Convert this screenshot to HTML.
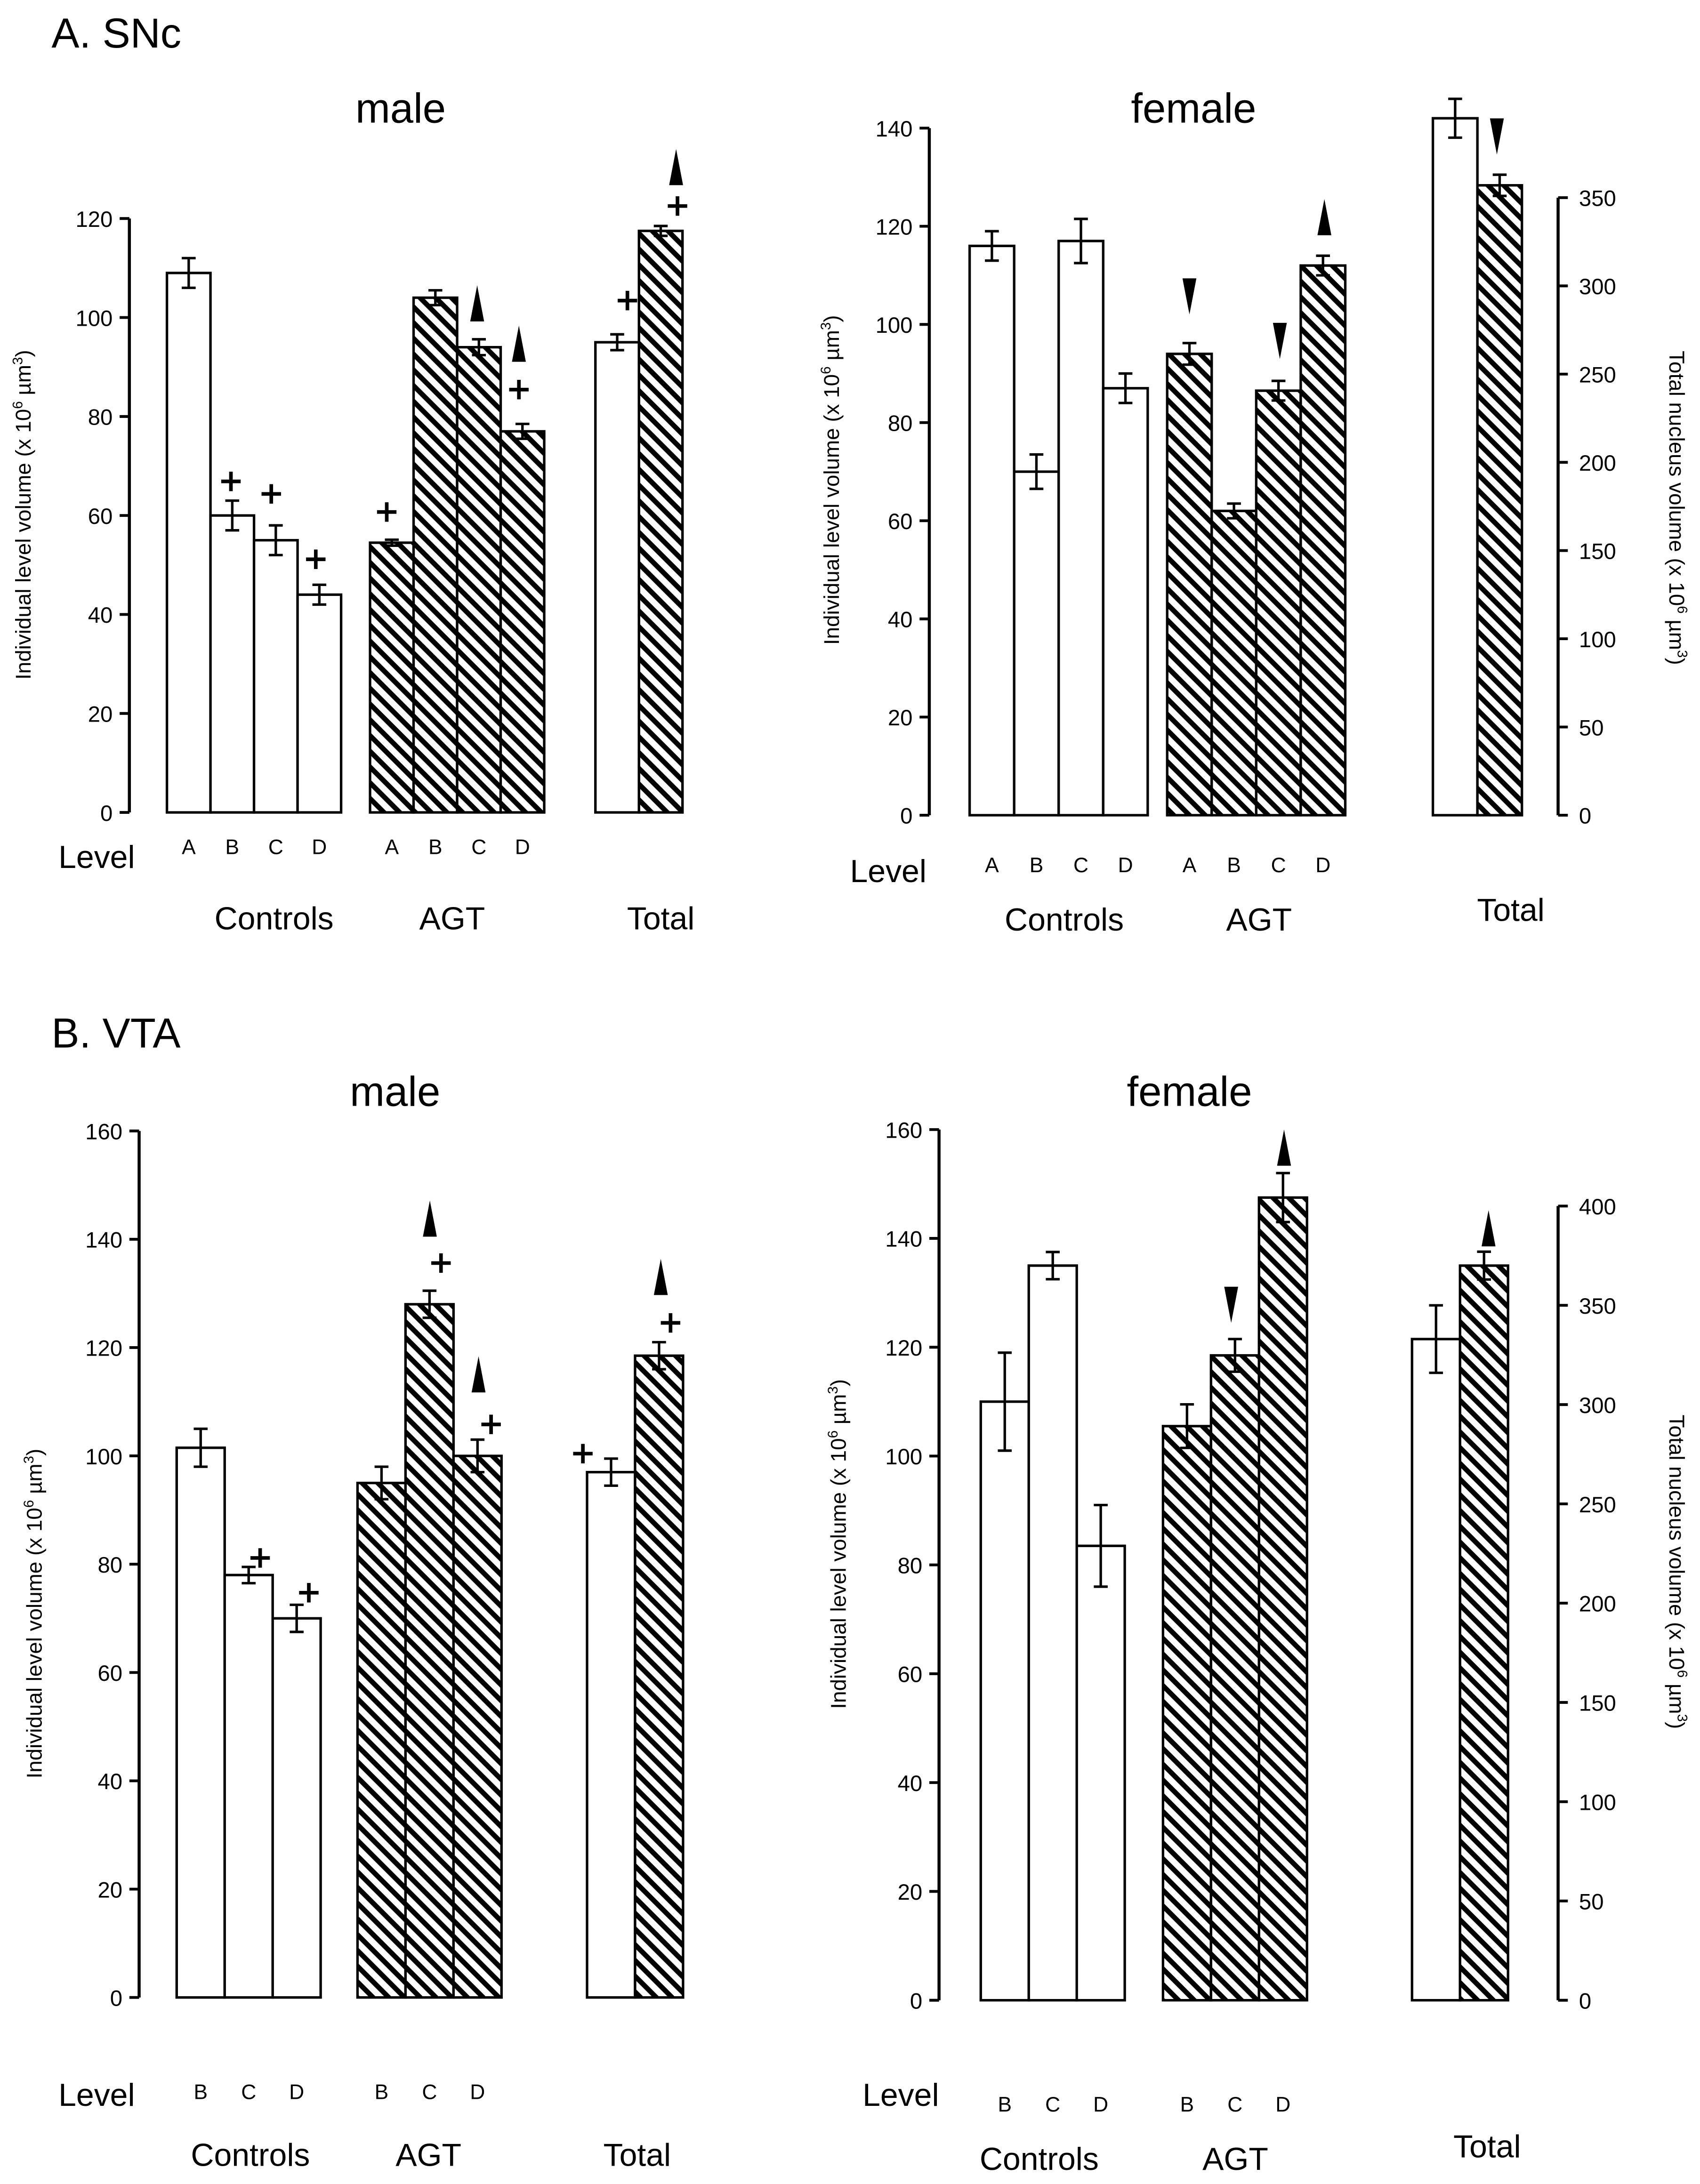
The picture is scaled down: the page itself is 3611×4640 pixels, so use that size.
<!DOCTYPE html>
<html><head><meta charset="utf-8"><style>
html,body{margin:0;padding:0;background:#fff}
svg{display:block}
text{font-family:"Liberation Sans",Arial,sans-serif;fill:#000}
</style></head><body>
<svg id="fig" xmlns="http://www.w3.org/2000/svg" width="3611" height="4640" viewBox="0 0 1222 1570">
<defs>
<pattern id="hatch" patternUnits="userSpaceOnUse" width="8" height="8" patternTransform="rotate(45)">
<rect x="0" y="0" width="8" height="8" fill="#fff"/>
<rect x="0" y="0" width="8" height="3.6" fill="#000"/>
</pattern>
</defs>
<text x="37" y="34" font-size="30">A. SNc</text>
<text x="37" y="753" font-size="30">B. VTA</text>
</svg>
<script>
// ---- Panel A male (SNc) ----
const snmCategories = ['A','B','C','D'];
const snmCtrl = [109, 60, 55, 44];
const snmCtrlErr = [3, 3, 3, 2];
const snmAgt = [54.5, 104, 94, 77];
const snmAgtErr = [0.6, 1.5, 1.6, 1.5];
const snmTotal = [95, 117.5];
const snmTotalErr = [1.6, 1];
const snmTicks = [0,20,40,60,80,100,120];
// ---- Panel A female (SNc) ----
const snfCategories = ['A','B','C','D'];
const snfCtrl = [116, 70, 117, 87];
const snfCtrlErr = [3, 3.5, 4.5, 3];
const snfAgt = [94, 62, 86.5, 112];
const snfAgtErr = [2.2, 1.5, 2, 2];
const snfTotal = [395, 357];
const snfTotalErr = [11, 6];
const snfTicks = [0,20,40,60,80,100,120,140];
const snfRightTicks = [0,50,100,150,200,250,300,350];
// ---- Panel B male (VTA) ----
const vmCategories = ['B','C','D'];
const vmCtrl = [101.5, 78, 70];
const vmCtrlErr = [3.5, 1.5, 2.5];
const vmAgt = [95, 128, 100];
const vmAgtErr = [3, 2.5, 3];
const vmTotal = [97, 118.5];
const vmTotalErr = [2.5, 2.5];
const vmTicks = [0,20,40,60,80,100,120,140,160];
// ---- Panel B female (VTA) ----
const vfCategories = ['B','C','D'];
const vfCtrl = [110, 135, 83.5];
const vfCtrlErr = [9, 2.5, 7.5];
const vfAgt = [105.5, 118.5, 147.5];
const vfAgtErr = [4, 3, 4.5];
const vfTotal = [333, 370];
const vfTotalErr = [17, 7];
const vfTicks = [0,20,40,60,80,100,120,140,160];
const vfRightTicks = [0,50,100,150,200,250,300,350,400];

const NS='http://www.w3.org/2000/svg';
const svg=document.getElementById('fig');
function mk(tag,attrs,parent){const e=document.createElementNS(NS,tag);for(const k in attrs)e.setAttribute(k,attrs[k]);(parent||svg).appendChild(e);return e;}

function panel(p){
  const g=mk('g',{});
  
  
  const yL=v=>p.y0-(v-0)*p.k;
  const yR=v=>p.y0-v*(p.kR||p.k);
  const ax=mk('line',{x1:p.ax,x2:p.ax,y1:yL(p.ticks[p.ticks.length-1]),y2:p.y0,stroke:'#000','stroke-width':2.2},g);
  
  
  p.ticks.forEach(t=>{
    mk('line',{x1:p.ax-7,x2:p.ax,y1:yL(t),y2:yL(t),stroke:'#000','stroke-width':2},g);
    const tx=mk('text',{x:p.ax-12,y:yL(t)+6,'font-size':16,'text-anchor':'end'},g);
    tx.textContent=t;
    
    
  });
  const lt=mk('text',{x:0,y:0,'font-size':15.5,'text-anchor':'middle',transform:`translate(${p.ltx},${p.lty}) rotate(-90)`},g);
  lt.innerHTML='Individual level volume (x 10<tspan font-size="10" dy="-6">6</tspan><tspan dy="6"> µm</tspan><tspan font-size="10" dy="-6">3</tspan><tspan dy="6">)</tspan>';
  
  
  if(p.rticks){
    const ra=mk('line',{x1:p.rx,x2:p.rx,y1:yR(p.rticks[p.rticks.length-1]),y2:p.y0,stroke:'#000','stroke-width':2.2},g);
    
    
    p.rticks.forEach(t=>{
      mk('line',{x1:p.rx,x2:p.rx+7,y1:yR(t),y2:yR(t),stroke:'#000','stroke-width':2},g);
      const tx=mk('text',{x:p.rx+15,y:yR(t)+6,'font-size':16},g);
      tx.textContent=t;
      
      
    });
    const rt=mk('text',{x:0,y:0,'font-size':15.5,'text-anchor':'middle',transform:`translate(${p.rtx},${p.rty}) rotate(90)`},g);
    rt.innerHTML='Total nucleus volume (x 10<tspan font-size="10" dy="-6">6</tspan><tspan dy="6"> µm</tspan><tspan font-size="10" dy="-6">3</tspan><tspan dy="6">)</tspan>';
    
    
  }
  function bar(x,w,v,e,hatched,yf,name){
    const top=yf(v);
    const r=mk('rect',{x:x,y:top,width:w,height:p.y0-top,fill:hatched?'url(#hatch)':'#fff',stroke:'#000','stroke-width':1.8},g);
    
    
    const cx=x+w/2, a=yf(v+e), b=yf(v-e);
    const eb=mk('path',{d:`M${cx},${a}V${b}M${cx-5},${a}H${cx+5}M${cx-5},${b}H${cx+5}`,stroke:'#000','stroke-width':1.8,fill:'none'},g);
    
    
  }
  p.cats.forEach((c,i)=>{
    bar(p.cx0+i*p.bw,p.bw,p.ctrl[i],p.ctrlErr[i],false,yL,'bar-control-'+c.toLowerCase());
    bar(p.ax0+i*p.bw,p.bw,p.agt[i],p.agtErr[i],true,yL,'bar-agt-'+c.toLowerCase());
    const l1=mk('text',{x:p.cx0+(i+.5)*p.bw,y:p.ly,'font-size':15,'text-anchor':'middle'},g);
    l1.textContent=c;
    
    
    const l2=mk('text',{x:p.ax0+(i+.5)*p.bw,y:p.ly,'font-size':15,'text-anchor':'middle'},g);
    l2.textContent=c;
    
    
  });
  const tf=p.rticks?yR:yL;
  bar(p.tx0,p.bw,p.total[0],p.totalErr[0],false,tf,'bar-total-control');
  bar(p.tx0+p.bw,p.bw,p.total[1],p.totalErr[1],true,tf,'bar-total-agt');
  [[p.title,p.titx,p.tity,30,'middle','panel-title'],['Level',p.lvx,p.lvy,23,'start','level-title'],
   ['Controls',p.gc[0],p.gy,23,'middle','group-label-controls'],['AGT',p.gc[1],p.gy,23,'middle','group-label-agt'],
   ['Total',p.gc[2],p.gty,23,'middle','group-label-total']].forEach(a=>{
    const t=mk('text',{x:a[1],y:a[2],'font-size':a[3],'text-anchor':a[4]},g);
    t.textContent=a[0];
    
    
  });
  p.plus.forEach(q=>{
    const m=mk('path',{d:`M${q[0]-7},${q[1]}H${q[0]+7}M${q[0]},${q[1]-7}V${q[1]+7}`,stroke:'#000','stroke-width':2.6},g);
    
    
  });
  p.arrows.forEach(q=>{
    const d=q[2]>0?`M${q[0]},${q[1]}L${q[0]+5},${q[1]+26}L${q[0]-5},${q[1]+26}Z`:`M${q[0]-5},${q[1]}L${q[0]+5},${q[1]}L${q[0]},${q[1]+26}Z`;
    const m=mk('path',{d:d,fill:'#000'},g);
    
    
  });
}

panel({name:'snc-male-chart',ax:93,y0:584,k:427/120,ticks:snmTicks,ltx:22,lty:370,
 cats:snmCategories,ctrl:snmCtrl,ctrlErr:snmCtrlErr,agt:snmAgt,agtErr:snmAgtErr,total:snmTotal,totalErr:snmTotalErr,
 bw:31.3,cx0:120,ax0:266,tx0:428,ly:614,title:'male',titx:288,tity:88,lvx:42,lvy:624,gc:[197,325,475],gy:668,gty:668,
 plus:[[166,346],[195,355],[227,402],[278,368],[373,280],[451,216],[487,148]],
 arrows:[[343,205,1],[373,234,1],[486,107,1]]});
panel({name:'snc-female-chart',ax:668,y0:586,k:494/140,ticks:snfTicks,ltx:603,lty:345,
 rx:1120,kR:444/350,rticks:snfRightTicks,rtx:1200,rty:365,
 cats:snfCategories,ctrl:snfCtrl,ctrlErr:snfCtrlErr,agt:snfAgt,agtErr:snfAgtErr,total:snfTotal,totalErr:snfTotalErr,
 bw:32,cx0:697,ax0:839,tx0:1030,ly:627,title:'female',titx:858,tity:88,lvx:611,lvy:634,gc:[765,905,1086],gy:669,gty:662,
 plus:[],arrows:[[855,200,-1],[920,232,-1],[952,143,1],[1076,85,-1]]});
panel({name:'vta-male-chart',ax:100,y0:1436,k:623/160,ticks:vmTicks,ltx:30,lty:1160,
 cats:vmCategories,ctrl:vmCtrl,ctrlErr:vmCtrlErr,agt:vmAgt,agtErr:vmAgtErr,total:vmTotal,totalErr:vmTotalErr,
 bw:34.5,cx0:127,ax0:257,tx0:422,ly:1509,title:'male',titx:284,tity:795,lvx:42,lvy:1514,gc:[180,308,458],gy:1557,gty:1557,
 plus:[[187,1120],[222,1145],[317,908],[353,1024],[419,1045],[482,951]],
 arrows:[[309,863,1],[344,975,1],[475,905,1]]});
panel({name:'vta-female-chart',ax:675,y0:1438,k:626/160,ticks:vfTicks,ltx:608,lty:1110,
 rx:1120,kR:571/400,rticks:vfRightTicks,rtx:1200,rty:1130,
 cats:vfCategories,ctrl:vfCtrl,ctrlErr:vfCtrlErr,agt:vfAgt,agtErr:vfAgtErr,total:vfTotal,totalErr:vfTotalErr,
 bw:34.5,cx0:705,ax0:836,tx0:1015,ly:1518,title:'female',titx:855,tity:795,lvx:620,lvy:1514,gc:[747,888,1069],gy:1560,gty:1551,
 plus:[],arrows:[[885,925,-1],[923,812,1],[1070,870,1]]});
</script>
</body></html>
